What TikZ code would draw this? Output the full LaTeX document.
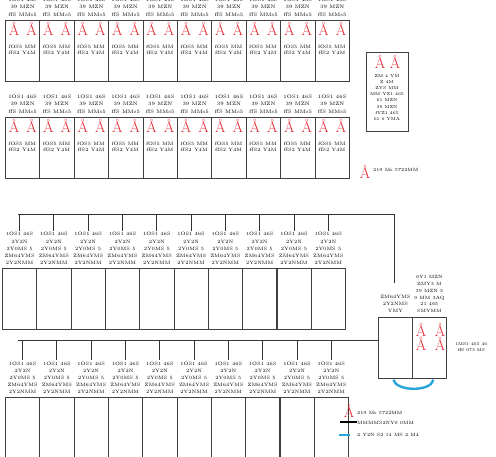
\documentclass[tikz,border=0pt]{standalone}
\usetikzlibrary{calc}
\definecolor{mkred}{HTML}{E62129}
\definecolor{arcblue}{HTML}{2AA5DC}
\tikzset{
  room/.style={draw=black!75, line width=0.8pt, minimum width=34.4pt, minimum height=61pt, inner sep=0pt, anchor=north west},
  tallroom/.style={room, minimum height=70pt},
  lbl/.style={font=\fontsize{5}{7.5}\selectfont, align=center, inner sep=0pt},
  inl/.style={font=\fontsize{4.8}{6.4}\selectfont, align=center, inner sep=0pt},
  llbl/.style={font=\fontsize{4.8}{7.2}\selectfont, align=center, inner sep=0pt},
  small/.style={font=\fontsize{4.6}{6.4}\selectfont, align=center, inner sep=0pt},
  mk/.style={text=mkred, font=\fontsize{15}{15}\selectfont, inner sep=0pt},
  bus/.style={draw=black!80, line width=0.9pt},
}
\newcommand{\toplbl}{1OS1 46S\\39 MZN\\ffS MMs5}
\newcommand{\inlbl}{fOS5 MM\\ffS2 Y4M}
\newcommand{\lowlbl}{1OS1 46S\\2Y2N\\2Y0MS 5\\ZM64YMS\\2Y2NMM}
\begin{document}
\begin{tikzpicture}[x=1pt,y=-1pt]
\clip (0,0) rectangle (496,457);
\fill[white] (0,0) rectangle (496,457);
% rows 1 and 2
\foreach \r/\top in {1/20,2/117} {
  \foreach \i in {0,...,9} {
    \pgfmathsetmacro\xx{5+34.4*\i}
    \node[room] (r\r-\i) at (\xx,\top) {};
    \node[lbl, anchor=south, yshift=3.5pt] (l\r-\i) at (r\r-\i.north) {\toplbl};
    \node[mk] (m\r-\i-a) at ($(r\r-\i.north west)+(9,9)$) {Å};
    \node[mk] (m\r-\i-b) at ($(r\r-\i.north west)+(26.5,9)$) {Å};
    \node[inl] (t\r-\i) at ($(r\r-\i.north west)+(17.2,30)$) {\inlbl};
  }
}
% right info box
\node[draw=black!75, line width=0.8pt, minimum width=42pt, minimum height=79pt, inner sep=0pt, anchor=north west] (info) at (366,52) {};
\node[mk] (ia) at (380,62) {Å};
\node[mk] (ib) at (395,62) {Å};
\node[small, anchor=north, font=\fontsize{4.3}{6.2}\selectfont] (itxt) at (387,74) {ZM 4 YM\\Z 4M\\ZYS MM\\MM YZ1 465\\61 MZN\\39 MZN\\fYZ1 465\\61 6 YMA};
\node[mk] (ma) at (365,172) {Å};
\node[small, anchor=west] (mt) at (373,170) {219 Ms 5722MM};
% row 3
\foreach \i in {0,...,9} {
  \pgfmathsetmacro\xx{2+34.3*\i}
  \node[room] (r3-\i) at (\xx,268) {};
  \node[llbl, anchor=south, yshift=3pt] (l3-\i) at (r3-\i.north) {\lowlbl};
  \coordinate (b3-\i) at (r3-\i.north |- 0,214);
  \draw[bus] (b3-\i) -- ($(l3-\i.north)+(0,-1.5)$);
}
% row 4
\foreach \i in {0,...,9} {
  \pgfmathsetmacro\xx{5+34.3*\i}
  \node[tallroom] (r4-\i) at (\xx,397) {};
  \node[llbl, anchor=south, yshift=3pt] (l4-\i) at (r4-\i.north) {\lowlbl};
  \coordinate (b4-\i) at (r4-\i.north |- 0,340);
  \draw[bus] (b4-\i) -- ($(l4-\i.north)+(0,-1.5)$);
}
% big double room
\node[draw=black!75, line width=0.8pt, minimum width=34pt, minimum height=61pt, inner sep=0pt, anchor=north west] (bl) at (378,317) {};
\node[draw=black!75, line width=0.8pt, minimum width=34pt, minimum height=61pt, inner sep=0pt, anchor=north west] (br) at (412,317) {};
\node[llbl, anchor=south, yshift=4pt] (bll) at (bl.north) {ZM64YMS\\2Y2NMS\\YMY};
\node[llbl, font=\fontsize{4.6}{6.8}\selectfont, anchor=south, yshift=4pt] (brl) at (br.north) {6Y1 MZN\\ZMY3 M\\39 MZN 5\\9 MM 3AQ\\21 465\\SMYMM};
\node[mk] (ba) at (421,330) {Å};
\node[mk] (bb) at (440,330) {Å};
\node[mk] (bc) at (421,344) {Å};
\node[mk] (bd) at (440,344) {Å};
\node[small, font=\fontsize{4.2}{6}\selectfont, anchor=west] (bside) at (455,347) {1MS1 465 46\\ffS 073 MS};
% buses
\coordinate (bus1s) at (18,214);
\coordinate (bus1c) at (394,214);
\coordinate (bus1e) at (394,283);
\draw[bus] (bus1s) -- (bus1c) -- (bus1e);
\coordinate (bus2s) at (18,340);
\draw[bus] (bus2s) -- (bl.west |- 0,340);
% blue link
\draw[arcblue, line width=2.4pt] ($(bl.south)+(-2,1)$) .. controls ($(bl.south)+(1,13)$) and ($(br.south)+(2,13)$) .. ($(br.south)+(4,1)$);
% legend
\node[mk] (lg1) at (349,411) {Å};
\node[small, anchor=west] (lg1t) at (357,413) {219 Ms 5722MM};
\coordinate (lg2a) at (340,422);
\coordinate (lg2b) at (357,422);
\draw[black, line width=2.4pt] (lg2a) -- (lg2b);
\node[small, anchor=west] (lg2t) at (357,422.5) {MMMMS2NY0 0MM};
\coordinate (lg3a) at (339,435);
\coordinate (lg3b) at (350,435);
\draw[arcblue, line width=2.4pt] (lg3a) -- (lg3b);
\node[small, anchor=west] (lg3t) at (357,435) {2 Y2N S2 14 MS 2 M4};
\end{tikzpicture}
\end{document}
